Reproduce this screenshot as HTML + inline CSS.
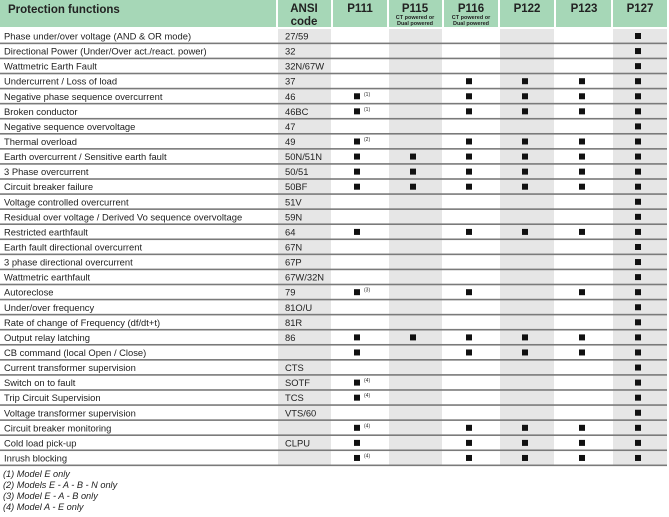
<!DOCTYPE html>
<html><head><meta charset="utf-8"><style>
html,body{margin:0;padding:0;background:#fff;width:669px;height:517px;overflow:hidden}
svg{display:block;font-family:"Liberation Sans",Arial,sans-serif}
</style></head><body>
<svg width="669" height="517" xmlns="http://www.w3.org/2000/svg">
<rect x="0" y="0" width="667" height="27" fill="#a6d7b7"/>
<g fill="#fff">
<rect x="276" y="0" width="2" height="27"/><rect x="331" y="0" width="2" height="27"/>
<rect x="387" y="0" width="2" height="27"/><rect x="442" y="0" width="2" height="27"/>
<rect x="498" y="0" width="2" height="27"/><rect x="554" y="0" width="2" height="27"/>
<rect x="611" y="0" width="2" height="27"/>
</g>
<g fill="#e6e6e6">
<rect x="278" y="29" width="53" height="437"/>
<rect x="389" y="29" width="53" height="437"/>
<rect x="500" y="29" width="54" height="437"/>
<rect x="613" y="29" width="54" height="437"/>
</g>
<g font-weight="bold" fill="#222" font-size="11.5">
<text x="8" y="13">Protection functions</text>
<text x="304" y="12" text-anchor="middle">ANSI</text>
<text x="304" y="25" text-anchor="middle">code</text>
<text x="360" y="12" text-anchor="middle">P111</text>
<text x="415" y="12" text-anchor="middle">P115</text>
<text x="471" y="12" text-anchor="middle">P116</text>
<text x="527" y="12" text-anchor="middle">P122</text>
<text x="584" y="12" text-anchor="middle">P123</text>
<text x="640" y="12" text-anchor="middle">P127</text>
</g>
<g font-weight="bold" fill="#222" font-size="5.5" text-anchor="middle">
<text x="415" y="19">CT powered or</text><text x="415" y="25">Dual powered</text>
<text x="471" y="19">CT powered or</text><text x="471" y="25">Dual powered</text>
</g>
<g id="rows" font-size="9.4" fill="#222"></g>
<g font-size="9.2" font-style="italic" fill="#222">
<text x="3" y="477">(1) Model E only</text>
<text x="3" y="488">(2) Models E - A - B - N only</text>
<text x="3" y="499">(3) Model E - A - B only</text>
<text x="3" y="510">(4) Model A - E only</text>
</g>
</svg>
<script>
var rows=[
["Phase under/over voltage (AND & OR mode)","27/59","000001"],
["Directional Power  (Under/Over act./react. power)","32","000001"],
["Wattmetric Earth Fault","32N/67W","000001"],
["Undercurrent / Loss of load","37","001111"],
["Negative phase sequence overcurrent","46","101111","1"],
["Broken conductor","46BC","101111","1"],
["Negative sequence overvoltage","47","000001"],
["Thermal overload","49","101111","2"],
["Earth overcurrent / Sensitive earth fault","50N/51N","111111"],
["3 Phase overcurrent","50/51","111111"],
["Circuit breaker failure","50BF","111111"],
["Voltage controlled overcurrent","51V","000001"],
["Residual over voltage / Derived Vo sequence overvoltage","59N","000001"],
["Restricted earthfault","64","101111"],
["Earth fault directional overcurrent","67N","000001"],
["3 phase directional overcurrent","67P","000001"],
["Wattmetric earthfault","67W/32N","000001"],
["Autoreclose","79","101011","3"],
["Under/over frequency","81O/U","000001"],
["Rate of change of Frequency (df/dt+t)","81R","000001"],
["Output relay latching","86","111111"],
["CB command (local Open / Close)","","101111"],
["Current transformer supervision","CTS","000001"],
["Switch on to fault","SOTF","100001","4"],
["Trip Circuit Supervision","TCS","100001","4"],
["Voltage transformer supervision","VTS/60","000001"],
["Circuit breaker monitoring","","101111","4"],
["Cold load pick-up","CLPU","101111"],
["Inrush blocking","","101111","4"]];
var cx=[357,413,469,525,582,638];
var s="";var p=15.07;
rows.forEach(function(r,i){
 var top=29+i*p, base=top+10.5;
 s+='<text x="4" y="'+base+'">'+r[0].replace(/&/g,"&amp;")+'</text>';
 s+='<text x="285" y="'+base+'">'+r[1]+'</text>';
 for(var k=0;k<6;k++){ if(r[2][k]=="1"){ s+='<rect x="'+(cx[k]-3)+'" y="'+(top+4)+'" width="6" height="6" fill="#111"/>'; } }
 if(r[3]) s+='<text x="364" y="'+(top+6.5)+'" font-size="5">('+r[3]+')</text>';
 s+='<rect x="0" y="'+(top+p-1.5)+'" width="667" height="1.6" fill="#7a7a7a"/>';
});
document.getElementById("rows").innerHTML=s;
</script>
</body></html>
